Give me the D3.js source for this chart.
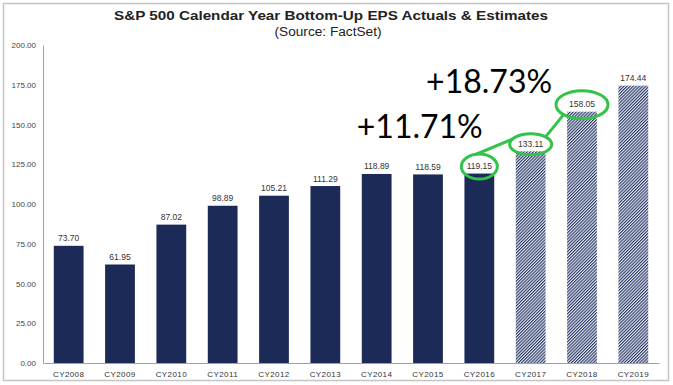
<!DOCTYPE html>
<html>
<head>
<meta charset="utf-8">
<script src="https://cdn.jsdelivr.net/npm/d3@7"></script>
<style>
  body { margin: 0; background: #fff; }
  text { font-family: "Liberation Sans", Arial, sans-serif; }
</style>
</head>
<body>
<div id="chart"></div>
<script>
// Chart data
var categories = ["CY2008", "CY2009", "CY2010", "CY2011", "CY2012", "CY2013",
                  "CY2014", "CY2015", "CY2016", "CY2017", "CY2018", "CY2019"];
var eps = [73.70, 61.95, 87.02, 98.89, 105.21, 111.29, 118.89, 118.59, 119.15, 133.11, 158.05, 174.44];
var estimates = ["CY2017", "CY2018", "CY2019"];
var yTicks = [0, 25, 50, 75, 100, 125, 150, 175, 200];
var circled = ["CY2016", "CY2017", "CY2018"];
var growthLabels = ["+11.71%", "+18.73%"];

var data = categories.map(function(c, i) { return { cat: c, value: eps[i] }; });

var W = 673, H = 385;
var margin = { top: 45, right: 14, bottom: 22, left: 43 };

var svg = d3.select("#chart").append("svg")
    .attr("width", W)
    .attr("height", H);

// fine hatched fill for the estimate years
var defs = svg.append("defs");
var pat = defs.append("pattern")
    .attr("id", "hatch")
    .attr("patternUnits", "userSpaceOnUse")
    .attr("width", 2.2)
    .attr("height", 2.2)
    .attr("patternTransform", "rotate(45)");
pat.append("rect").attr("width", 2.2).attr("height", 2.2).attr("fill", "#e6e9f1");
pat.append("rect").attr("width", 1.1).attr("height", 2.2).attr("fill", "#2a3866");

// outer frame
svg.append("rect")
    .attr("x", 3.5).attr("y", 3.5)
    .attr("width", 665).attr("height", 377)
    .attr("fill", "none")
    .attr("stroke", "#c4c4c4")
    .attr("stroke-width", 1.5);

// titles
svg.append("text")
    .attr("x", 331).attr("y", 20)
    .attr("text-anchor", "middle")
    .attr("textLength", 434)
    .attr("lengthAdjust", "spacingAndGlyphs")
    .style("font-size", "12.5px").style("font-weight", "bold").style("fill", "#222")
    .text("S&P 500 Calendar Year Bottom-Up EPS Actuals & Estimates");
svg.append("text")
    .attr("x", 328).attr("y", 36)
    .attr("text-anchor", "middle")
    .attr("textLength", 107)
    .attr("lengthAdjust", "spacingAndGlyphs")
    .style("font-size", "12.5px").style("fill", "#222")
    .text("(Source: FactSet)");

var x = d3.scaleBand()
    .domain(categories)
    .range([margin.left, W - margin.right])
    .paddingInner(0.42)
    .paddingOuter(0.21);

var y = d3.scaleLinear()
    .domain([0, 200])
    .range([H - margin.bottom, margin.top]);

// Y axis
var yAxis = svg.append("g")
    .attr("transform", "translate(" + margin.left + ",0)")
    .call(d3.axisLeft(y).tickValues(yTicks).tickSize(0).tickPadding(7)
        .tickFormat(d3.format(".2f")));
yAxis.select(".domain").attr("stroke", "#a0a0a0");
yAxis.selectAll("text").style("font-size", "8px").style("fill", "#444")
    .style("font-family", "Liberation Sans, Arial, sans-serif");

// X axis
var xAxis = svg.append("g")
    .attr("transform", "translate(0," + y(0) + ")")
    .call(d3.axisBottom(x).tickSize(0).tickPadding(8));
xAxis.select(".domain").attr("stroke", "#a0a0a0");
xAxis.selectAll("text").style("font-size", "8px").style("fill", "#333")
    .style("letter-spacing", "0.4px")
    .style("font-family", "Liberation Sans, Arial, sans-serif");

// bars
svg.selectAll(".bar")
    .data(data)
    .enter().append("rect")
    .attr("class", "bar")
    .attr("x", function(d) { return x(d.cat); })
    .attr("y", function(d) { return y(d.value); })
    .attr("width", x.bandwidth())
    .attr("height", function(d) { return y(0) - y(d.value); })
    .attr("fill", function(d) { return estimates.indexOf(d.cat) >= 0 ? "url(#hatch)" : "#1b2a57"; });

// value labels
svg.selectAll(".val")
    .data(data)
    .enter().append("text")
    .attr("class", "val")
    .attr("x", function(d) { return x(d.cat) + x.bandwidth() / 2; })
    .attr("y", function(d) { return y(d.value) - 4.5; })
    .attr("text-anchor", "middle")
    .style("font-size", "8.5px").style("fill", "#333")
    .text(function(d) { return d.value.toFixed(2); });

// green circles round the labels
var radii = [[18, 12.5], [21, 10.5], [26, 14]];
var ells = circled.map(function(c, i) {
    var v = eps[categories.indexOf(c)];
    return { cx: x(c) + x.bandwidth() / 2, cy: y(v) - 7, rx: radii[i][0], ry: radii[i][1] };
});
svg.selectAll(".ring")
    .data(ells)
    .enter().append("ellipse")
    .attr("class", "ring")
    .attr("cx", function(d) { return d.cx; })
    .attr("cy", function(d) { return d.cy; })
    .attr("rx", function(d) { return d.rx; })
    .attr("ry", function(d) { return d.ry; })
    .attr("fill", "none")
    .attr("stroke", "#33c24a")
    .attr("stroke-width", 3);

// connectors between the rings
function onEllipse(e, deg) {
    var a = deg * Math.PI / 180;
    return [e.cx + e.rx * Math.cos(a), e.cy - e.ry * Math.sin(a)];
}
var links = [[onEllipse(ells[0], 100), onEllipse(ells[1], 150)],
             [onEllipse(ells[1], 45), onEllipse(ells[2], 225)]];
svg.selectAll(".link")
    .data(links)
    .enter().append("line")
    .attr("class", "link")
    .attr("x1", function(d) { return d[0][0]; })
    .attr("y1", function(d) { return d[0][1]; })
    .attr("x2", function(d) { return d[1][0]; })
    .attr("y2", function(d) { return d[1][1]; })
    .attr("stroke", "#33c24a")
    .attr("stroke-width", 3);

// growth annotations
svg.append("text")
    .attr("x", x("CY2014") - 5)
    .attr("y", y(141.5))
    .style("font-family", "Lato, 'Open Sans', sans-serif")
    .style("font-size", "32px").style("fill", "#000")
    .text(growthLabels[0]);
svg.append("text")
    .attr("x", x("CY2015") + 13)
    .attr("y", y(170))
    .style("font-family", "Lato, 'Open Sans', sans-serif")
    .style("font-size", "32px").style("fill", "#000")
    .text(growthLabels[1]);
</script>
</body>
</html>
